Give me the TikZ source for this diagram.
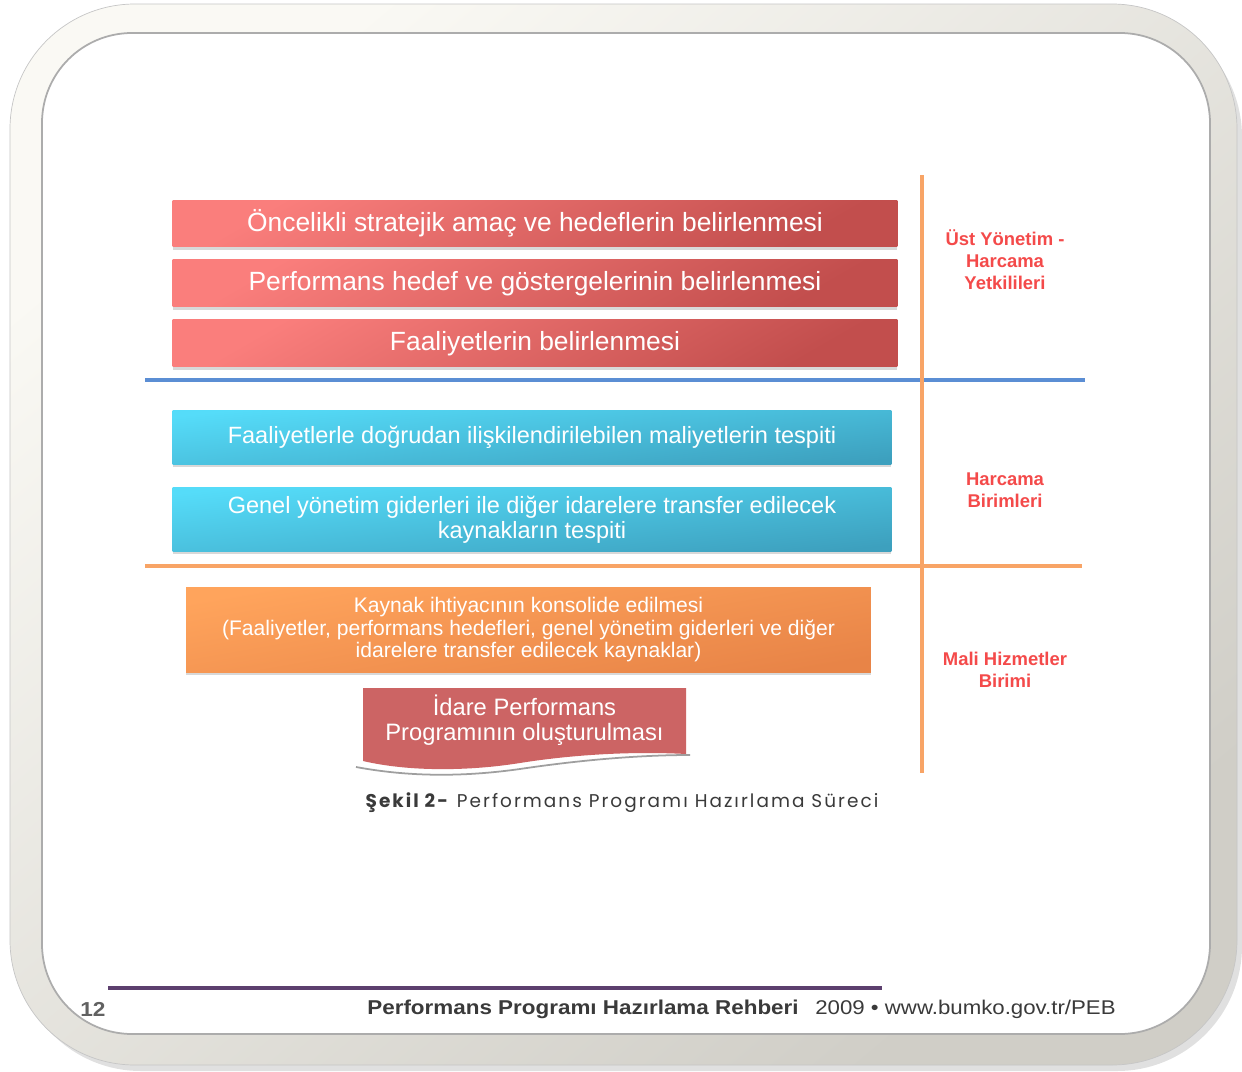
\documentclass[tikz,border=0pt]{standalone}
\usepackage{fontspec}
\setmainfont{Liberation Sans}
\newfontfamily\capfont[LetterSpace=11]{Poppins}
\newfontfamily\footfont[FakeStretch=1.12]{Liberation Sans}
\usepackage{xcolor}
\usetikzlibrary{positioning}
\usetikzlibrary{shadows}

\definecolor{framelight}{HTML}{FAF9F4}
\definecolor{framedark}{HTML}{D0CEC7}
\definecolor{redtop}{HTML}{FA7E7C}
\definecolor{redbot}{HTML}{C24E4D}
\definecolor{bluetop}{HTML}{55DCF9}
\definecolor{bluebot}{HTML}{3DA0BE}
\definecolor{orangetop}{HTML}{FFA45C}
\definecolor{orangebot}{HTML}{E88447}
\definecolor{docred}{HTML}{CC6464}
\definecolor{lblred}{HTML}{F44A4A}
\definecolor{sepblue}{HTML}{5B8ED4}
\definecolor{seporange}{HTML}{F8A466}
\definecolor{footpurple}{HTML}{5C3F6E}
\definecolor{txtgray}{HTML}{3A3A3A}

\begin{document}
\begin{tikzpicture}[x=0.02cm, y=-0.02cm, node distance=1.2cm, on grid,
      box/.style={inner sep=0pt, text=white, align=center,
        drop shadow={shadow xshift=0pt, shadow yshift=-1.5pt, opacity=.3}},
      redbox/.style={box, top color=redtop, bottom color=redbot, shading angle=30,
        minimum width=14.5cm, minimum height=0.94cm, font=\fontsize{15}{18}\selectfont},
      bluebox/.style={box, top color=bluetop, bottom color=bluebot, shading angle=6,
        minimum width=14.38cm, font=\fontsize{13.4}{14.4}\selectfont},
      orangebox/.style={box, top color=orangetop, bottom color=orangebot, shading angle=10,
        minimum width=13.7cm, minimum height=1.7cm, font=\fontsize{12}{12.8}\selectfont},
      lbl/.style={text=lblred, align=center, font=\bfseries\fontsize{10.5}{12.5}\selectfont}]

      \useasboundingbox (0,0) rectangle (1242,1072);
      \fill[white] (0,0) rectangle (1242,1072);

      \fill[black, opacity=.12, rounded corners=2.5cm] (16,12) rectangle (1242,1071);
      \draw[gray!45, top color=framelight, bottom color=framedark, shading angle=40,
        rounded corners=2.5cm] (10,4) rectangle (1237,1065);
      \draw[gray!65, line width=1pt, fill=white, rounded corners=1.8cm] (42,33) rectangle (1210,1034);

      \node[redbox] (oncelik) at (535,223.5) {Öncelikli stratejik amaç ve hedeflerin belirlenmesi};
      \node[redbox] (gosterge) [below=of oncelik] {Performans hedef ve göstergelerinin belirlenmesi};
      \node[redbox] (faaliyet) [below=of gosterge] {Faaliyetlerin belirlenmesi};

      \node[bluebox, minimum height=1.08cm] (maliyet) [below=of faaliyet, yshift=-0.68cm, xshift=-0.06cm]
        {Faaliyetlerle doğrudan ilişkilendirilebilen maliyetlerin tespiti};
      \node[bluebox, minimum height=1.28cm] (kaynak) [below=of maliyet, yshift=-0.44cm]
        {Genel yönetim giderleri ile diğer idarelere transfer edilecek\\kaynakların tespiti};

      \node[orangebox] (konsolide) [below=of kaynak, yshift=-1.01cm, xshift=-0.07cm]
        {Kaynak ihtiyacının konsolide edilmesi\\(Faaliyetler, performans hedefleri, genel yönetim giderleri ve diğer\\idarelere transfer edilecek kaynaklar)};

      \draw[gray!75, line width=1pt] (356,767) .. controls (415,778) and (470,776) .. (520,769)
        .. controls (580,760) and (640,755) .. (690,755);
      \fill[docred] (363,688) -- (686,688) -- (686,754) .. controls (630,751) and (570,755) .. (520,763)
        .. controls (470,771) and (410,772) .. (363,761) -- cycle;
      \node[text=white, align=center, font=\fontsize{13.5}{14.2}\selectfont] (idare) at (524.5,720)
        {İdare Performans\\Programının oluşturulması};

      \node[text=txtgray, font=\capfont\fontsize{10.5}{12}\selectfont] (sekil) at (622,803)
        {\textbf{Şekil 2-} Performans Programı Hazırlama Süreci};

      \coordinate (blueW) at (145,380);
      \coordinate (blueE) at (1085,380);
      \coordinate (orW) at (145,566);
      \coordinate (orE) at (1082,566);
      \coordinate (vtop) at (922,175);
      \coordinate (vbot) at (922,773);
      \draw[sepblue, line width=2.2pt] (blueW) -- (blueE);
      \draw[seporange, line width=2.2pt] (orW) -- (orE);
      \draw[seporange, line width=2.8pt] (vtop) -- (vbot);

      \node[lbl] (ustyonetim) at (1005,260) {Üst Yönetim -\\Harcama\\Yetkilileri};
      \node[lbl] (harcama) at (1005,490) {Harcama\\Birimleri};
      \node[lbl] (mali) at (1005,670) {Mali Hizmetler\\Birimi};

      \coordinate (footW) at (108,988);
      \coordinate (footE) at (882,988);
      \draw[footpurple, line width=2.8pt] (footW) -- (footE);
      \node[text=txtgray!80, font=\footfont\bfseries\fontsize{11.5}{13}\selectfont] (sayfa) at (93,1009) {12};
      \node[text=txtgray, anchor=west, inner sep=0pt, font=\footfont\bfseries\fontsize{11.4}{13}\selectfont]
        (rehber) at (367,1009) {Performans Programı Hazırlama Rehberi};
      \node[text=txtgray, anchor=west, inner sep=0pt, font=\footfont\fontsize{11.3}{13}\selectfont]
        (web) at (815,1009) {2009 • www.bumko.gov.tr/PEB};

    \end{tikzpicture}
\end{document}
